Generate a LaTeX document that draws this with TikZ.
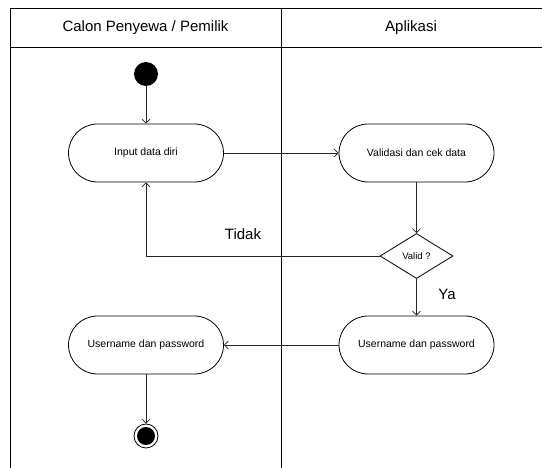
\documentclass[tikz,border=0pt]{standalone}
\usepackage{fontspec}
\setmainfont{Liberation Sans}
\usetikzlibrary{arrows.meta,shapes.geometric}

\tikzset{
  lane/.style={line width=0.9pt, black},
  flow/.style={line width=0.7pt, draw=black!85, -{Straight Barb[length=4pt,width=8pt]}},
  activity/.style={draw, line width=0.8pt, rounded corners=29pt,
    minimum width=155pt, minimum height=58pt, inner sep=0pt,
    font=\fontsize{10.5}{12}\selectfont},
  decision/.style={draw, line width=0.8pt, diamond, minimum width=73pt,
    minimum height=45pt, inner sep=0pt, aspect=1.6,
    font=\fontsize{9.5}{11}\selectfont},
  lanetitle/.style={font=\fontsize{15}{18}\selectfont},
  guard/.style={font=\fontsize{15}{18}\selectfont},
}

\begin{document}
\begin{tikzpicture}[x=1pt, y=-1pt]
  \useasboundingbox (0,0) rectangle (542,468);

  % swimlane frame
  \draw[lane] (10,468) -- (10,8) -- (542,8);
  \draw[lane] (10,47) -- (542,47);
  \draw[lane] (281,8) -- (281,468);
  \node[lanetitle] (laneA) at (145.5,28) {Calon Penyewa / Pemilik};
  \node[lanetitle] (laneB) at (411,28) {Aplikasi};

  % start and end
  \node[circle, fill=black, minimum size=24pt, inner sep=0pt] (start) at (146,74) {};
  \node[circle, draw, line width=0.8pt, minimum size=24pt, inner sep=0pt] (finish) at (146,436) {};
  \fill (finish.center) circle (9pt);

  % activities
  \node[activity] (input) at (146,153) {Input data diri};
  \node[activity] (valid) at (416.5,153) {Validasi dan cek data};
  \node[decision] (check) at (416.5,256) {Valid ?};
  \node[activity] (userR) at (416.5,345) {Username dan password};
  \node[activity] (userL) at (146,345) {Username dan password};

  % flows
  \draw[flow] (start) -- (input);
  \draw[flow] (input) -- (valid);
  \draw[flow] (valid) -- (check);
  \draw[flow] (check.west) -| (input.south);
  \draw[flow] (check) -- (userR);
  \draw[flow] (userR) -- (userL);
  \draw[flow] (userL) -- (finish);

  % guards
  \node[guard] (tidak) at (243,234) {Tidak};
  \node[guard] (ya) at (447,294) {Ya};
\end{tikzpicture}
\end{document}
